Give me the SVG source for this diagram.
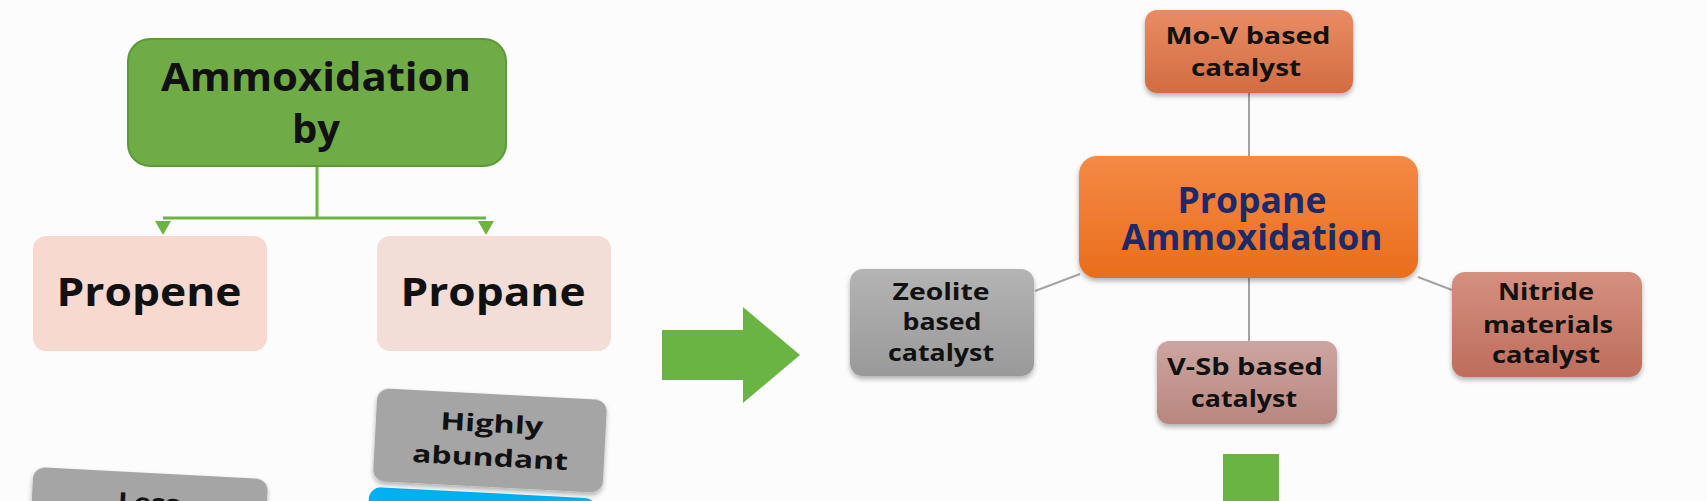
<svg xmlns="http://www.w3.org/2000/svg" width="1707" height="501" viewBox="0 0 1707 501">
<defs>
<style>
text{font-family:"Open Sans","DejaVu Sans",sans-serif;font-weight:700;text-anchor:middle;fill:#111}
.big{font-size:40px}
.mid{font-size:36px;fill:#1c2a6a}
.sm{font-size:24px}
.gline{stroke:#6db33f;stroke-width:3;fill:none}
.cline{stroke:#a3a3a3;stroke-width:2;fill:none}
.garrow{fill:#6ab443}
</style>
<linearGradient id="gOrange" x1="0" y1="0" x2="0" y2="1"><stop offset="0" stop-color="#f48a45"/><stop offset="1" stop-color="#ea6d1c"/></linearGradient>
<linearGradient id="gMoV" x1="0" y1="0" x2="0" y2="1"><stop offset="0" stop-color="#e98c63"/><stop offset="1" stop-color="#d26c42"/></linearGradient>
<linearGradient id="gGray" x1="0" y1="0" x2="0" y2="1"><stop offset="0" stop-color="#b4b4b4"/><stop offset="1" stop-color="#999"/></linearGradient>
<linearGradient id="gVSb" x1="0" y1="0" x2="0" y2="1"><stop offset="0" stop-color="#cda5a0"/><stop offset="1" stop-color="#b8877f"/></linearGradient>
<linearGradient id="gNit" x1="0" y1="0" x2="0" y2="1"><stop offset="0" stop-color="#d5907f"/><stop offset="1" stop-color="#bd6d5c"/></linearGradient>
<filter id="sh" x="-10%" y="-10%" width="120%" height="130%"><feDropShadow dx="0" dy="3" stdDeviation="2.5" flood-color="#000" flood-opacity="0.3"/></filter>
</defs>
<rect x="0" y="0" width="1707" height="501" fill="#fcfcfc"/>

<g id="connectors">
<path class="gline" d="M317,166 V218 M163,218 H486"/>
<path d="M155,221 L171,221 L163,235 Z" fill="#6db33f"/>
<path d="M478,221 L494,221 L486,235 Z" fill="#6db33f"/>
<line class="cline" x1="1249" y1="93" x2="1249" y2="156"/>
<line class="cline" x1="1249" y1="278" x2="1249" y2="341"/>
<line class="cline" x1="1035" y1="291" x2="1080" y2="274"/>
<line class="cline" x1="1418" y1="277" x2="1452" y2="290"/>
</g>

<g id="node-ammox-by">
<rect x="128" y="39" width="378" height="127" rx="22" fill="#6fac46" stroke="#5a9a37" stroke-width="2"/>
<text class="big" x="316" y="91" textLength="310" lengthAdjust="spacingAndGlyphs">Ammoxidation</text>
<text class="big" x="316" y="143">by</text>
</g>

<g id="node-propene">
<rect x="33" y="236" width="234" height="115" rx="13" fill="#f7d9d0"/>
<text class="big" x="149" y="306" textLength="185" lengthAdjust="spacingAndGlyphs">Propene</text>
</g>

<g id="node-propane">
<rect x="377" y="236" width="234" height="115" rx="13" fill="#f3ddd7"/>
<text class="big" x="493" y="306" textLength="185" lengthAdjust="spacingAndGlyphs">Propane</text>
</g>

<g id="node-less" transform="rotate(3 150 480)">
<rect x="33" y="473" width="235" height="95" rx="12" fill="#a5a5a5" filter="url(#sh)"/>
<text class="sm" x="150" y="511" font-size="27" textLength="62" lengthAdjust="spacingAndGlyphs">Less</text>
</g>

<g id="node-blue" transform="rotate(3 490 440)">
<rect x="372" y="493" width="228" height="80" rx="12" fill="#00b0f0"/>
</g>

<g id="node-highly" transform="rotate(3 490 440)">
<rect x="375" y="394" width="230" height="93" rx="12" fill="#a5a5a5" filter="url(#sh)"/>
<text class="sm" x="491" y="432" font-size="27" textLength="103" lengthAdjust="spacingAndGlyphs">Highly</text>
<text class="sm" x="491" y="466" font-size="27" textLength="156" lengthAdjust="spacingAndGlyphs">abundant</text>
</g>

<g id="arrow-right">
<polygon class="garrow" points="662,330 743,330 743,307 800,355 743,403 743,380 662,380"/>
</g>

<g id="arrow-down">
<rect class="garrow" x="1223" y="454" width="56" height="50"/>
</g>

<g id="node-mov">
<rect x="1145" y="10" width="208" height="83" rx="12" fill="url(#gMoV)" filter="url(#sh)"/>
<text class="sm" x="1248" y="44" textLength="165" lengthAdjust="spacingAndGlyphs">Mo-V based</text>
<text class="sm" x="1246" y="76" textLength="110" lengthAdjust="spacingAndGlyphs">catalyst</text>
</g>

<g id="node-propane-ammox">
<rect x="1079" y="156" width="339" height="122" rx="18" fill="url(#gOrange)" filter="url(#sh)"/>
<text class="mid" x="1252" y="213" textLength="149" lengthAdjust="spacingAndGlyphs">Propane</text>
<text class="mid" x="1252" y="250" textLength="261" lengthAdjust="spacingAndGlyphs">Ammoxidation</text>
</g>

<g id="node-zeolite">
<rect x="850" y="269" width="184" height="107" rx="13" fill="url(#gGray)" filter="url(#sh)"/>
<text class="sm" x="941" y="300" textLength="97" lengthAdjust="spacingAndGlyphs">Zeolite</text>
<text class="sm" x="942" y="330" textLength="79" lengthAdjust="spacingAndGlyphs">based</text>
<text class="sm" x="941" y="361" textLength="106" lengthAdjust="spacingAndGlyphs">catalyst</text>
</g>

<g id="node-vsb">
<rect x="1157" y="341" width="180" height="83" rx="12" fill="url(#gVSb)" filter="url(#sh)"/>
<text class="sm" x="1245" y="375" textLength="156" lengthAdjust="spacingAndGlyphs">V-Sb based</text>
<text class="sm" x="1244" y="407" textLength="106" lengthAdjust="spacingAndGlyphs">catalyst</text>
</g>

<g id="node-nitride">
<rect x="1452" y="272" width="190" height="105" rx="13" fill="url(#gNit)" filter="url(#sh)"/>
<text class="sm" x="1546" y="300" textLength="96" lengthAdjust="spacingAndGlyphs">Nitride</text>
<text class="sm" x="1548" y="333" textLength="130" lengthAdjust="spacingAndGlyphs">materials</text>
<text class="sm" x="1546" y="363" textLength="108" lengthAdjust="spacingAndGlyphs">catalyst</text>
</g>
</svg>
